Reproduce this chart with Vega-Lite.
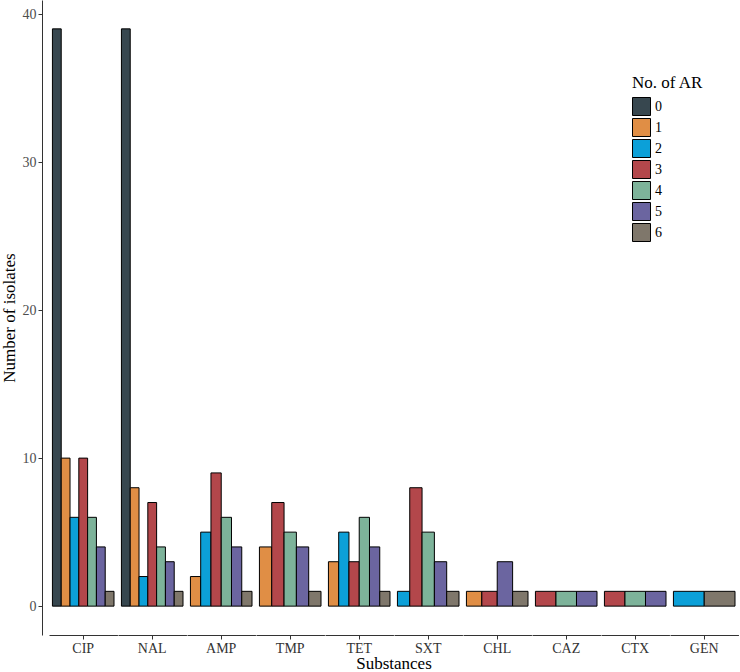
{
  "$schema": "https://vega.github.io/schema/vega-lite/v6.json",
  "padding": {"left": 0, "top": 0, "right": 0, "bottom": 0},
  "background": "white",
  "data": {"values": [
    {"Substance": "CIP", "AR": "0", "n": 39},
    {"Substance": "CIP", "AR": "1", "n": 10},
    {"Substance": "CIP", "AR": "2", "n": 6},
    {"Substance": "CIP", "AR": "3", "n": 10},
    {"Substance": "CIP", "AR": "4", "n": 6},
    {"Substance": "CIP", "AR": "5", "n": 4},
    {"Substance": "CIP", "AR": "6", "n": 1},
    {"Substance": "NAL", "AR": "0", "n": 39},
    {"Substance": "NAL", "AR": "1", "n": 8},
    {"Substance": "NAL", "AR": "2", "n": 2},
    {"Substance": "NAL", "AR": "3", "n": 7},
    {"Substance": "NAL", "AR": "4", "n": 4},
    {"Substance": "NAL", "AR": "5", "n": 3},
    {"Substance": "NAL", "AR": "6", "n": 1},
    {"Substance": "AMP", "AR": "1", "n": 2},
    {"Substance": "AMP", "AR": "2", "n": 5},
    {"Substance": "AMP", "AR": "3", "n": 9},
    {"Substance": "AMP", "AR": "4", "n": 6},
    {"Substance": "AMP", "AR": "5", "n": 4},
    {"Substance": "AMP", "AR": "6", "n": 1},
    {"Substance": "TMP", "AR": "1", "n": 4},
    {"Substance": "TMP", "AR": "3", "n": 7},
    {"Substance": "TMP", "AR": "4", "n": 5},
    {"Substance": "TMP", "AR": "5", "n": 4},
    {"Substance": "TMP", "AR": "6", "n": 1},
    {"Substance": "TET", "AR": "1", "n": 3},
    {"Substance": "TET", "AR": "2", "n": 5},
    {"Substance": "TET", "AR": "3", "n": 3},
    {"Substance": "TET", "AR": "4", "n": 6},
    {"Substance": "TET", "AR": "5", "n": 4},
    {"Substance": "TET", "AR": "6", "n": 1},
    {"Substance": "SXT", "AR": "2", "n": 1},
    {"Substance": "SXT", "AR": "3", "n": 8},
    {"Substance": "SXT", "AR": "4", "n": 5},
    {"Substance": "SXT", "AR": "5", "n": 3},
    {"Substance": "SXT", "AR": "6", "n": 1},
    {"Substance": "CHL", "AR": "1", "n": 1},
    {"Substance": "CHL", "AR": "3", "n": 1},
    {"Substance": "CHL", "AR": "5", "n": 3},
    {"Substance": "CHL", "AR": "6", "n": 1},
    {"Substance": "CAZ", "AR": "3", "n": 1},
    {"Substance": "CAZ", "AR": "4", "n": 1},
    {"Substance": "CAZ", "AR": "5", "n": 1},
    {"Substance": "CTX", "AR": "3", "n": 1},
    {"Substance": "CTX", "AR": "4", "n": 1},
    {"Substance": "CTX", "AR": "5", "n": 1},
    {"Substance": "GEN", "AR": "2", "n": 1},
    {"Substance": "GEN", "AR": "6", "n": 1}
  ]},
  "facet": {
    "column": {
      "field": "Substance", "type": "nominal",
      "sort": ["CIP", "NAL", "AMP", "TMP", "TET", "SXT", "CHL", "CAZ", "CTX", "GEN"],
      "header": {
        "labels": false,
        "title": "Substances",
        "titleOrient": "bottom",
        "titleFont": "Liberation Serif",
        "titleFontSize": 17,
        "titleFontWeight": "normal",
        "titleColor": "black",
        "titlePadding": -9
      }
    }
  },
  "spacing": 0,
  "spec": {
    "width": 68.44,
    "height": 635,
    "mark": {"type": "bar", "stroke": "black", "strokeWidth": 1},
    "encoding": {
      "x": {
        "field": "Substance", "type": "nominal",
        "scale": {"paddingInner": 0, "paddingOuter": 0.0556},
        "axis": {
          "title": null, "labelAngle": 0, "labelFont": "Liberation Serif",
          "labelFontSize": 14, "labelColor": "#333333", "tickSize": 4,
          "tickColor": "#333333", "domainColor": "#333333", "labelPadding": 2
        }
      },
      "xOffset": {
        "field": "AR", "type": "nominal",
        "sort": ["0", "1", "2", "3", "4", "5", "6"],
        "scale": {"paddingInner": 0, "paddingOuter": 0}
      },
      "y": {
        "field": "n", "type": "quantitative",
        "scale": {"domain": [-1.95, 40.95], "nice": false},
        "axis": {
          "title": "Number of isolates", "titleFont": "Liberation Serif",
          "titleFontSize": 17, "titleFontWeight": "normal", "titleColor": "black",
          "values": [0, 10, 20, 30, 40], "grid": false, "offset": 7,
          "labelFont": "Liberation Serif", "labelFontSize": 14, "labelColor": "#4D4D4D",
          "tickSize": 4, "tickColor": "#333333", "domainColor": "#333333",
          "labelPadding": 2, "titlePadding": 4
        }
      },
      "y2": {"datum": 0},
      "fill": {
        "field": "AR", "type": "nominal",
        "scale": {
          "domain": ["0", "1", "2", "3", "4", "5", "6"],
          "range": ["#37474F", "#E08E45", "#0CA0D8", "#B3474B", "#7DB39A", "#6B65A0", "#7F776B"]
        },
        "legend": {
          "title": "No. of AR", "orient": "none", "legendX": 583, "legendY": 75,
          "titleFont": "Liberation Serif", "titleFontSize": 17, "titleFontWeight": "normal",
          "titleColor": "black", "labelFont": "Liberation Serif", "labelFontSize": 14,
          "labelColor": "black", "symbolType": "square", "symbolSize": 324,
          "symbolStrokeColor": "black", "symbolStrokeWidth": 1, "symbolOpacity": 1,
          "rowPadding": -3, "titlePadding": 5
        }
      }
    }
  },
  "resolve": {"scale": {"x": "independent", "xOffset": "independent"}},
  "config": {"view": {"stroke": null}, "font": "Liberation Serif"}
}
